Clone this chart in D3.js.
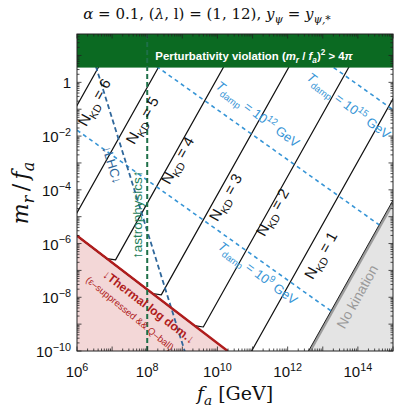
<!DOCTYPE html>
<html>
<head>
<meta charset="utf-8">
<script src="https://cdn.jsdelivr.net/npm/d3@7/dist/d3.min.js"></script>
<style>
  body { margin: 0; background: #fff; }
  svg { display: block; }
</style>
</head>
<body>
<div id="chart"></div>
<script>
// ---- data (log10 units) ----
var xDomainLog = [6, 15];          // f_a [GeV]
var yDomainLog = [-10, 1.8];       // m_r / f_a
var xTickLabels = [6, 8, 10, 12, 14];
var yTickLabels = [-10, -8, -6, -4, -2, 0];

var nkdN = [6, 5, 4, 3, 2, 1];
var nkdLogFaAtUnity = [6.37, 8.08, 9.93, 11.79, 13.50, 15.26];
var nkdSlope = 7 / 3;
var nkdLabelPos = [[6.62, -0.84], [7.99, -1.51], [8.99, -3.0], [10.36, -4.37], [11.70, -4.93], [13.07, -6.53]];
var noKinLogFaAtUnity = 16.88;
var noKinLabelPos = [13.98, -7.98];

var thermalConst = 0.29;           // log10(m_r/f_a) = 0.29 - log10(f_a)
var kinkOffset = 0.2, kinkBack = 0.25;

var tdampExp = ["9", "12", "15"];
var tdampLogYAt12 = [-7.36, -2.88, 1.77];
var tdampSlope = -0.93;
var tdampLabelPos = [[11.07, -7.23], [11.07, -1.32], [13.66, -1.0]];

var lhcAnchor = [6.57, 0.46];
var lhcSlope = -4.19;
var lhcLabelPos = [7.0, -3.07];

var astroLogFa = 8;
var astroLabelPos = [7.72, -4.93];
var perturbBound = Math.sqrt(4 * Math.PI);
var thermalLabelPos = [8.05, -8.35];
var thermalSubPos = [7.51, -8.6];

// ---- layout ----
var W = 399, H = 413;
var x = d3.scaleLog().domain(xDomainLog.map(function(d) { return Math.pow(10, d); })).range([77, 393]);
var y = d3.scaleLog().domain(yDomainLog.map(function(d) { return Math.pow(10, d); })).range([351, 34]);
function px(lf) { return x(Math.pow(10, lf)); }
function py(ly) { return y(Math.pow(10, ly)); }

var svg = d3.select("#chart").append("svg").attr("width", W).attr("height", H);
var sans = "'Liberation Sans', Arial, sans-serif";
var serif = "'DejaVu Serif', 'Liberation Serif', serif";

svg.append("clipPath").attr("id", "plotclip").append("rect")
  .attr("x", 77).attr("y", 34).attr("width", 316).attr("height", 317);

var plot = svg.append("g").attr("clip-path", "url(#plotclip)");
var line = d3.line().x(function(d) { return px(d[0]); }).y(function(d) { return py(d[1]); });

// rich text helper
function rich(sel, parts, size) {
  var cur = 0;
  parts.forEach(function(p) {
    var off = p.sup ? -0.42 * size : (p.sub ? 0.28 * size : 0);
    var ts = sel.append("tspan").attr("dy", off - cur).text(p.t);
    if (p.sup || p.sub) ts.attr("font-size", size * 0.72);
    if (p.i) ts.attr("font-style", "italic");
    cur = off;
  });
  return sel;
}

// thermal shaded region
var thermalBottom = thermalConst + 10;
plot.append("path")
  .attr("d", line([[6, thermalConst - 6], [thermalBottom, -10], [6, -10]]))
  .attr("fill", "#f3d7d7");

// no kination region
var nkBottom = noKinLogFaAtUnity - 10 / nkdSlope;
var nkRight = nkdSlope * (15 - noKinLogFaAtUnity);
plot.append("path")
  .attr("d", line([[nkBottom, -10], [15, nkRight], [15, -10]]))
  .attr("fill", "#e4e4e4");
plot.append("path")
  .attr("d", line([[nkBottom, -10], [15, nkRight]]))
  .attr("transform", "translate(1.6,0)")
  .attr("stroke", "#9c9c9c").attr("stroke-width", 2.6).attr("fill", "none");
plot.append("path")
  .attr("d", line([[nkBottom, -10], [15, nkRight]]))
  .attr("stroke", "#222").attr("stroke-width", 1).attr("fill", "none");

// N_KD lines
nkdLogFaAtUnity.forEach(function(c) {
  var kinkLf = (thermalConst + kinkOffset + nkdSlope * c) / (nkdSlope + 1);
  var topLf = c + 2 / nkdSlope;
  var pts = [];
  pts.push([5, thermalConst - 5]);
  pts.push([kinkLf - kinkBack, thermalConst - (kinkLf - kinkBack)]);
  pts.push([kinkLf, nkdSlope * (kinkLf - c)]);
  pts.push([topLf, nkdSlope * (topLf - c)]);
  plot.append("path").attr("d", line(pts))
    .attr("fill", "none").attr("stroke", "#111").attr("stroke-width", 1.2)
    .attr("stroke-linejoin", "round");
});

// T_damp lines
tdampLogYAt12.forEach(function(b) {
  var endLf = (b - 12 * tdampSlope + nkdSlope * noKinLogFaAtUnity) / (nkdSlope - tdampSlope);
  endLf = Math.min(endLf, 15);
  plot.append("path")
    .attr("d", line([[6, b + tdampSlope * (6 - 12)], [endLf, b + tdampSlope * (endLf - 12)]]))
    .attr("fill", "none").attr("stroke", "#3795d6").attr("stroke-width", 1.6)
    .attr("stroke-dasharray", "4,3.5");
});

// LHC line
plot.append("path")
  .attr("d", line([[6.4, lhcAnchor[1] + lhcSlope * (6.4 - lhcAnchor[0])],
                   [9.2, lhcAnchor[1] + lhcSlope * (9.2 - lhcAnchor[0])]]))
  .attr("fill", "none").attr("stroke", "#2f679b").attr("stroke-width", 1.8)
  .attr("stroke-dasharray", "5,3");

// thermal line
plot.append("path")
  .attr("d", line([[6, thermalConst - 6], [thermalBottom, -10]]))
  .attr("fill", "none").attr("stroke", "#b01c1c").attr("stroke-width", 2.4);

// perturbativity band
plot.append("rect")
  .attr("x", 77).attr("width", 316)
  .attr("y", 34).attr("height", py(Math.log10(perturbBound)) - 34)
  .attr("fill", "#0b6a22");

// astrophysics line
plot.append("line")
  .attr("x1", px(astroLogFa)).attr("x2", px(astroLogFa))
  .attr("y1", 34).attr("y2", 351)
  .attr("stroke", "#1e7048").attr("stroke-width", 2)
  .attr("stroke-dasharray", "5,3");

// ---- labels ----
var nkdAngle = -Math.atan(nkdSlope * 26.9 / 35.1) * 180 / Math.PI;
nkdN.forEach(function(n, i) {
  var p = nkdLabelPos[i];
  var t = svg.append("text")
    .attr("transform", "translate(" + px(p[0]) + "," + py(p[1]) + ") rotate(" + nkdAngle + ")")
    .attr("text-anchor", "middle").attr("dy", "0.35em")
    .attr("font-family", sans).attr("font-size", 15).attr("fill", "#111");
  rich(t, [{t: "N"}, {t: "KD", sub: true}, {t: " = " + n}], 15);
});

svg.append("text")
  .attr("transform", "translate(" + px(noKinLabelPos[0]) + "," + py(noKinLabelPos[1]) + ") rotate(" + nkdAngle + ")")
  .attr("text-anchor", "middle").attr("dy", "0.35em")
  .attr("font-family", sans).attr("font-size", 14).attr("fill", "#999")
  .text("No kination");

var tdAngle = Math.atan(-tdampSlope * 26.9 / 35.1) * 180 / Math.PI + 1.5;
tdampExp.forEach(function(e, i) {
  var p = tdampLabelPos[i];
  var t = svg.append("text")
    .attr("transform", "translate(" + px(p[0]) + "," + py(p[1]) + ") rotate(" + tdAngle + ")")
    .attr("text-anchor", "middle").attr("dy", "0.35em")
    .attr("font-family", sans).attr("font-size", 13).attr("fill", "#3795d6");
  rich(t, [{t: "T", i: true}, {t: "damp", sub: true}, {t: " = 10"}, {t: e, sup: true}, {t: " GeV"}], 13);
});

var lhcAngle = Math.atan(-lhcSlope * 26.9 / 35.1) * 180 / Math.PI;
svg.append("text")
  .attr("transform", "translate(" + px(lhcLabelPos[0]) + "," + py(lhcLabelPos[1]) + ") rotate(" + lhcAngle + ")")
  .attr("text-anchor", "middle").attr("dy", "0.35em")
  .attr("font-family", sans).attr("font-size", 13).attr("fill", "#2f679b")
  .text("\u2193LHC\u2193");

svg.append("text")
  .attr("transform", "translate(" + px(astroLabelPos[0]) + "," + py(astroLabelPos[1]) + ") rotate(-90)")
  .attr("text-anchor", "middle").attr("dy", "0.35em")
  .attr("font-family", sans).attr("font-size", 13.5).attr("fill", "#23805a")
  .text("\u2191astrophysics\u2191");

var thAngle = Math.atan(26.9 / 35.1) * 180 / Math.PI;
svg.append("text")
  .attr("transform", "translate(" + px(thermalLabelPos[0]) + "," + py(thermalLabelPos[1]) + ") rotate(" + thAngle + ")")
  .attr("text-anchor", "middle").attr("dy", "0.35em")
  .attr("font-family", sans).attr("font-size", 12).attr("font-weight", "bold").attr("fill", "#b01c1c")
  .text("\u2193Thermal log dom.\u2193");
svg.append("text")
  .attr("transform", "translate(" + px(thermalSubPos[0]) + "," + py(thermalSubPos[1]) + ") rotate(" + (thAngle + 2) + ")")
  .attr("text-anchor", "middle").attr("dy", "0.35em")
  .attr("font-family", sans).attr("font-size", 9.5).attr("fill", "#b01c1c")
  .text("(\u03B5\u2013suppressed && Q\u2013ball)");

var pt = svg.append("text")
  .attr("x", 254).attr("y", 60)
  .attr("text-anchor", "middle")
  .attr("font-family", sans).attr("font-size", 11.4).attr("font-weight", "bold").attr("fill", "#fff");
rich(pt, [{t: "Perturbativity violation ("}, {t: "m", i: true}, {t: "r", i: true, sub: true},
          {t: " / "}, {t: "f", i: true}, {t: "a", i: true, sub: true}, {t: ")"}, {t: "2", sup: true},
          {t: " > 4"}, {t: "\u03C0", i: true}], 11.4);

// ---- frame and ticks ----
svg.append("rect").attr("x", 77).attr("y", 34).attr("width", 316).attr("height", 317)
  .attr("fill", "none").attr("stroke", "#222").attr("stroke-width", 1);

var ticks = svg.append("g").attr("stroke", "#222").attr("stroke-width", 0.8);
for (var d = xDomainLog[0]; d < xDomainLog[1] + 0.01; d++) {
  for (var k = 1; k <= 9; k++) {
    var v = Math.log10(k) + d;
    if (v > xDomainLog[1] + 1e-6) break;
    var len = k === 1 ? 4.5 : 2.5;
    ticks.append("line").attr("x1", px(v)).attr("x2", px(v)).attr("y1", 351).attr("y2", 351 - len);
    ticks.append("line").attr("x1", px(v)).attr("x2", px(v)).attr("y1", 34).attr("y2", 34 + len);
  }
}
for (var d2 = yDomainLog[0]; d2 < yDomainLog[1]; d2++) {
  for (var k2 = 1; k2 <= 9; k2++) {
    var v2 = Math.log10(k2) + d2;
    if (v2 > yDomainLog[1] + 1e-6) break;
    var len2 = k2 === 1 ? 4.5 : 2.5;
    ticks.append("line").attr("y1", py(v2)).attr("y2", py(v2)).attr("x1", 77).attr("x2", 77 + len2);
    ticks.append("line").attr("y1", py(v2)).attr("y2", py(v2)).attr("x1", 393).attr("x2", 393 - len2);
  }
}

xTickLabels.forEach(function(e) {
  var t = svg.append("text").attr("x", px(e)).attr("y", 377)
    .attr("text-anchor", "middle").attr("font-family", sans).attr("font-size", 15).attr("fill", "#111");
  rich(t, [{t: "10"}, {t: String(e), sup: true}], 15);
});
yTickLabels.forEach(function(e) {
  var t = svg.append("text").attr("x", 71).attr("y", py(e) + 6)
    .attr("text-anchor", "end").attr("font-family", sans).attr("font-size", 15).attr("fill", "#111");
  if (e === 0) t.text("1");
  else rich(t, [{t: "10"}, {t: "\u2212" + Math.abs(e), sup: true}], 15);
});

// axis titles
var xt = svg.append("text").attr("x", 235).attr("y", 400).attr("text-anchor", "middle")
  .attr("font-family", serif).attr("font-size", 19).attr("fill", "#111");
rich(xt, [{t: "f", i: true}, {t: "a", i: true, sub: true}, {t: " [GeV]"}], 19);

var yt = svg.append("text").attr("transform", "translate(28,193) rotate(-90)").attr("text-anchor", "middle")
  .attr("font-family", serif).attr("font-size", 22).attr("fill", "#111");
rich(yt, [{t: "m", i: true}, {t: "r", i: true, sub: true}, {t: "\u2009/\u2009"}, {t: "f", i: true}, {t: "a", i: true, sub: true}], 22);

var title = svg.append("text").attr("x", 207).attr("y", 19).attr("text-anchor", "middle")
  .attr("font-family", serif).attr("font-size", 15).attr("fill", "#111");
rich(title, [{t: "\u03B1", i: true}, {t: " = 0.1, ("}, {t: "\u03BB", i: true}, {t: ", l) = (1, 12), "},
             {t: "y", i: true}, {t: "\u03C8", i: true, sub: true}, {t: " = "}, {t: "y", i: true},
             {t: "\u03C8,*", i: true, sub: true}], 15);
</script>
</body>
</html>
